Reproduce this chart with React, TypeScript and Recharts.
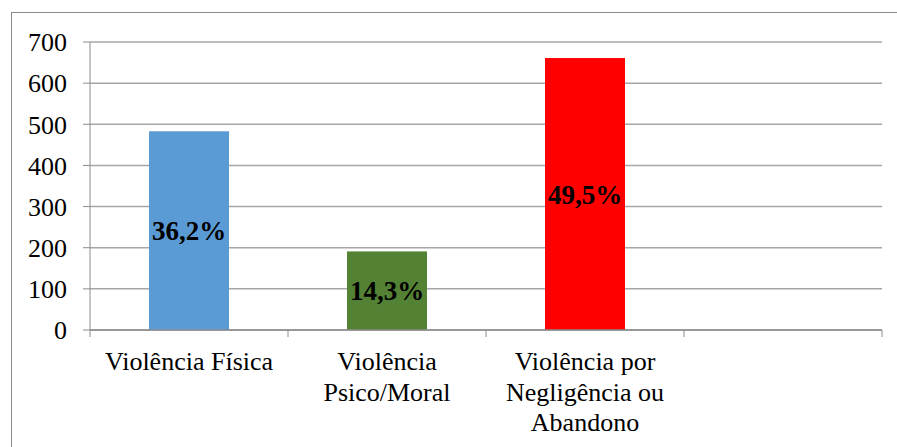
import { BarChart, Bar, XAxis, YAxis, CartesianGrid, LabelList } from 'recharts';

const categories = ['Violência Física', 'Violência\nPsico/Moral', 'Violência por\nNegligência ou\nAbandono', ''];
const values = [483, 191, 661, null];
const percentLabels = ['36,2%', '14,3%', '49,5%', ''];
const colors = ['#5b9bd5', '#548235', '#ff0000', '#ffffff'];
const yTicks = [0, 100, 200, 300, 400, 500, 600, 700];
// category edges (integers) get a tick mark, category centres (halves) get the label
const xTicks = [0, 0.5, 1, 1.5, 2, 2.5, 3, 3.5, 4];

const FONT = "Times New Roman, Liberation Serif, Tinos, serif";
const GRID = '#a6a6a6';
const AXIS = '#8c8c8c';

const data = categories.map((name, i) => ({
    name,
    value: values[i],
    pct: percentLabels[i],
    pos: i + 0.5,
}));

const EdgeTick = (props: any) => {
    const { x, y, payload } = props;
    const v = Number(payload.value);
    if (Number.isInteger(v)) {
        return <line x1={x} x2={x} y1={y} y2={y + 7} stroke={AXIS} strokeWidth={1} />;
    }
    const lines = (categories[Math.floor(v)] || '').split('\n');
    return (
        <text x={x} y={y} textAnchor="middle" style={{ fontFamily: FONT }} fontSize={26} fill="#000">
            {lines.map((line, i) => (
                <tspan key={i} x={x} dy={i === 0 ? 40 : 30.5}>{line}</tspan>
            ))}
        </text>
    );
};

export default function App() {
    return (
        <div style={{ position: 'absolute', left: 0, top: 0, width: 897, height: 447, background: '#fff', overflow: 'hidden', fontFamily: FONT }}>
            <div style={{ position: 'absolute', left: 11, top: 12, width: 900, height: 450, border: '1px solid #8c8c8c' }} />
            <div style={{ position: 'absolute', left: 0, top: 0 }}>
                <BarChart
                    width={897}
                    height={447}
                    data={data}
                    margin={{ top: 42, right: 15, left: 0, bottom: 0 }}
                    style={{ fontFamily: FONT }}
                >
                    <CartesianGrid vertical={false} stroke={GRID} strokeWidth={1.5} />
                    <XAxis xAxisId="cat" dataKey="name" hide height={0} />
                    <XAxis
                        xAxisId="edges"
                        type="number"
                        dataKey="pos"
                        domain={[0, 4]}
                        allowDataOverflow
                        ticks={xTicks}
                        interval={0}
                        height={117}
                        tickSize={0}
                        tickMargin={0}
                        tickLine={false}
                        axisLine={{ stroke: AXIS, strokeWidth: 1.5 }}
                        tick={<EdgeTick />}
                    />
                    <YAxis
                        domain={[0, 700]}
                        ticks={yTicks}
                        width={90}
                        tickSize={7}
                        tickMargin={16}
                        stroke={AXIS}
                        axisLine={{ stroke: AXIS }}
                        tickLine={{ stroke: AXIS }}
                        tick={{ fill: '#000', fontSize: 26, style: { fontFamily: FONT } }}
                        interval={0}
                    />
                    <Bar dataKey="value" xAxisId="cat" barSize={80} isAnimationActive={false}
                        shape={(p: any) => (
                            <rect x={p.x} y={p.y} width={p.width} height={p.height} fill={colors[p.index]} />
                        )}
                    >
                        <LabelList dataKey="pct" position="center" fill="#000" style={{ fontFamily: FONT }} fontSize={27} fontWeight="bold" />
                    </Bar>
                </BarChart>
            </div>
        </div>
    );
}
